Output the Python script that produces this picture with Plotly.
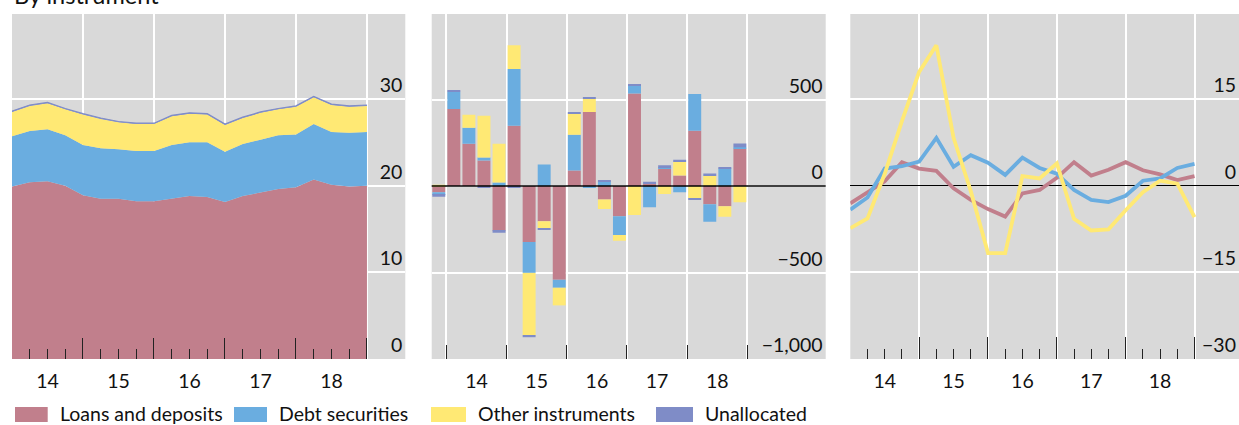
import plotly.graph_objects as go

# quarters Q4 2013 .. Q4 2018
quarters = ["2013Q4",
            "2014Q1", "2014Q2", "2014Q3", "2014Q4",
            "2015Q1", "2015Q2", "2015Q3", "2015Q4",
            "2016Q1", "2016Q2", "2016Q3", "2016Q4",
            "2017Q1", "2017Q2", "2017Q3", "2017Q4",
            "2018Q1", "2018Q2", "2018Q3", "2018Q4"]
year_labels = ["14", "15", "16", "17", "18"]

# left: outstanding stock, USD trn
stock_loans = [19.9, 20.4, 20.5, 20.0, 18.9, 18.5, 18.5, 18.2, 18.2, 18.5, 18.8,
               18.7, 18.1, 18.8, 19.2, 19.6, 19.8, 20.7, 20.1, 19.9, 20.0]
stock_debt = [5.8, 5.9, 6.0, 5.8, 5.8, 5.8, 5.7, 5.8, 5.8, 6.2, 6.2,
              6.3, 5.8, 6.0, 6.1, 6.2, 6.1, 6.4, 6.1, 6.2, 6.2]
stock_other = [2.8, 2.9, 3.0, 3.0, 3.5, 3.4, 3.1, 3.1, 3.1, 3.3, 3.3,
               3.2, 3.1, 3.0, 3.1, 3.0, 3.2, 3.1, 3.1, 3.0, 3.0]
stock_unalloc = [0.1, 0.1, 0.1, 0.1, 0.1, 0.1, 0.1, 0.1, 0.1, 0.1, 0.1,
                 0.1, 0.1, 0.1, 0.1, 0.1, 0.1, 0.1, 0.1, 0.1, 0.1]

# centre: quarterly flows, USD bn
flow_loans = [-36, 446, 245, 148, -259, 349, -324, -203, -542, 90, 429,
              -77, -174, 536, 12, 102, 61, 320, -105, -117, 217]
flow_debt = [-15, 100, 92, 17, 21, 328, -178, 125, -46, 207, -11,
             27, -109, 48, -123, 8, -36, 213, -102, 102, 8]
flow_other = [7, 0, 75, 241, 224, 138, -362, -40, -102, 121, 75,
              -56, -33, -167, 5, -46, 80, -69, 61, -61, -94]
flow_unalloc = [-11, 4, 0, -11, -11, -11, -10, -6, 0, 6, 6,
                6, 0, 6, 8, 10, 11, -6, 11, 8, 21]

# right: growth rates, %
growth_loans = [-3.1, -1.2, 0.7, 4.0, 2.9, 2.5, -0.5, -2.5, -4.1, -5.4, -1.4,
                -0.8, 1.3, 4.0, 1.7, 2.7, 4.0, 2.6, 1.9, 0.9, 1.6]
growth_debt = [-4.2, -2.1, 2.9, 3.3, 4.1, 8.2, 3.2, 5.2, 3.9, 1.8, 4.8,
               3.0, 2.0, -0.8, -2.5, -2.9, -1.8, 0.8, 1.2, 3.0, 3.7]
growth_other = [-7.4, -5.7, 2.0, 11.1, 19.6, 24.2, 8.2, -1.0, -11.7, -11.7, 1.6,
                1.2, 3.8, -5.8, -7.8, -7.6, -4.3, -1.2, 0.8, 0.3, -5.5]

RED = "#C17F8C"
BLUE = "#6AADE0"
YELLOW = "#FFE974"
PURPLE = "#7F8CC7"
BG = "#D9D9D9"
FONT = "Lato"
FS = 19.5


def q_end(q):
    return int(q[:4]) + int(q[-1]) / 4


def q_mid(q):
    return int(q[:4]) + (int(q[-1]) - 0.5) / 4


x_end = [q_end(q) for q in quarters]
x_mid = [q_mid(q) for q in quarters]
year_start = [2000 + int(y) for y in year_labels] + [2000 + int(year_labels[-1]) + 1]
year_mid = [2000 + int(y) + 0.5 for y in year_labels]

fig = go.Figure()

# left panel: stacked areas
for name, vals, col in [("Loans and deposits", stock_loans, RED),
                        ("Debt securities", stock_debt, BLUE),
                        ("Other instruments", stock_other, YELLOW)]:
    fig.add_trace(go.Scatter(x=x_end, y=vals, name=name, stackgroup="s",
                             mode="lines", line=dict(width=0, color=col),
                             fillcolor=col, showlegend=False,
                             xaxis="x", yaxis="y"))
fig.add_trace(go.Scatter(x=x_end, y=stock_unalloc, name="Unallocated", stackgroup="s",
                         mode="lines", line=dict(width=1.2, color=PURPLE),
                         fillcolor=PURPLE, showlegend=False, xaxis="x", yaxis="y"))

# centre panel: stacked bars
for name, vals, col in [("Loans and deposits", flow_loans, RED),
                        ("Debt securities", flow_debt, BLUE),
                        ("Other instruments", flow_other, YELLOW),
                        ("Unallocated", flow_unalloc, PURPLE)]:
    fig.add_trace(go.Bar(x=x_mid, y=vals, name=name, marker_color=col,
                         marker_line_width=0, width=0.215, showlegend=False,
                         xaxis="x2", yaxis="y2"))

# right panel: lines
for name, vals, col in [("Loans and deposits", growth_loans, RED),
                        ("Debt securities", growth_debt, BLUE),
                        ("Other instruments", growth_other, YELLOW)]:
    fig.add_trace(go.Scatter(x=x_end, y=vals, name=name, mode="lines",
                             line=dict(color=col, width=3.8), showlegend=False,
                             xaxis="x3", yaxis="y3"))

# empty carriers so the year-label axes get drawn
for xa, ya in [("x4", "y"), ("x5", "y2"), ("x6", "y3")]:
    fig.add_trace(go.Scatter(x=year_mid, y=[None] * len(year_mid), mode="lines",
                             showlegend=False, hoverinfo="skip", xaxis=xa, yaxis=ya))

W, H = 1239, 425
T, B = 14, 66
ph = H - T - B
doms = [[12 / W, 405.3 / W], [431.7 / W, 825.7 / W], [850.3 / W, 1.0]]
xranges = [[2014.0, 2019.54], [2013.757, 2020.30], [2014.0, 2019.646]]
yranges = [[0, 39.8], [-1000, 995], [-30, 29.6]]
ydticks = [10, 500, 15]
major_len = [21, 14, 22]


def xmain(i):
    d = dict(domain=doms[i], range=xranges[i], anchor="y" if i == 0 else f"y{i+1}",
             tickmode="array", tickvals=year_start, ticks="inside",
             ticklen=major_len[i], tickwidth=1.3, tickcolor="#222",
             showticklabels=False, showgrid=True, gridcolor="white", gridwidth=1.5,
             zeroline=False, showline=False, fixedrange=True)
    if i != 1:
        d["minor"] = dict(tickmode="array", tickvals=x_end, ticks="inside",
                          ticklen=10, tickwidth=1.1, tickcolor="#222", showgrid=False)
    return d


def xlabels(i):
    ov = "x" if i == 0 else f"x{i+1}"
    return dict(overlaying=ov, domain=doms[i], range=xranges[i],
                anchor="y" if i == 0 else f"y{i+1}", side="bottom",
                tickmode="array", tickvals=year_mid, ticktext=year_labels,
                ticks="", ticklabelstandoff=8, showgrid=False, zeroline=False,
                showline=False, tickfont=dict(size=FS, color="#111"))


def yax(i):
    return dict(domain=[0, 1], range=yranges[i], anchor="x" if i == 0 else f"x{i+1}",
                side="right", dtick=ydticks[i], tick0=0, ticks="",
                ticklabelposition="inside top", tickformat=",",
                showgrid=True, gridcolor="white", gridwidth=1.5,
                zeroline=(i == 2), zerolinecolor="black", zerolinewidth=1.4,
                showline=False, tickfont=dict(size=FS, color="#111"))


fig.update_layout(
    width=W, height=H,
    margin=dict(l=0, r=0, t=T, b=B),
    paper_bgcolor="white", plot_bgcolor=BG,
    font=dict(family=FONT, size=FS, color="#111"),
    barmode="relative",
    showlegend=False,
    xaxis=xmain(0), xaxis2=xmain(1), xaxis3=xmain(2),
    xaxis4=xlabels(0), xaxis5=xlabels(1), xaxis6=xlabels(2),
    yaxis=yax(0), yaxis2=yax(1), yaxis3=yax(2),
)

# zero line over the bars
fig.add_shape(type="line", xref="x2 domain", yref="y2", x0=0, x1=1, y0=0, y1=0,
              line=dict(color="black", width=1.5), layer="above")

# title, cut at the top edge as in the source layout
fig.add_annotation(text="By instrument", xref="paper", yref="paper",
                   x=12 / W, y=1 + 3 / ph, xanchor="left", yanchor="bottom",
                   showarrow=False, font=dict(size=23.5, color="#111"))

# legend row
legend_items = [("Loans and deposits", RED, 15, 47.7),
                ("Debt securities", BLUE, 234, 267),
                ("Other instruments", YELLOW, 431, 466),
                ("Unallocated", PURPLE, 656, 693)]
for label, col, x0, x1 in legend_items:
    fig.add_shape(type="rect", xref="paper", yref="paper",
                  x0=x0 / W, x1=x1 / W, y0=-(422 - (H - B)) / ph, y1=-(407 - (H - B)) / ph,
                  fillcolor=col, line_width=0)
    fig.add_annotation(text=label, xref="paper", yref="paper",
                       x=(x1 + 10) / W, y=-(413.5 - (H - B)) / ph,
                       xanchor="left", yanchor="middle", showarrow=False,
                       font=dict(size=FS, color="#111"))

fig.write_html("out.html", config={"displayModeBar": False},
               post_script="document.body.style.margin='0';document.body.style.overflow='hidden';")
